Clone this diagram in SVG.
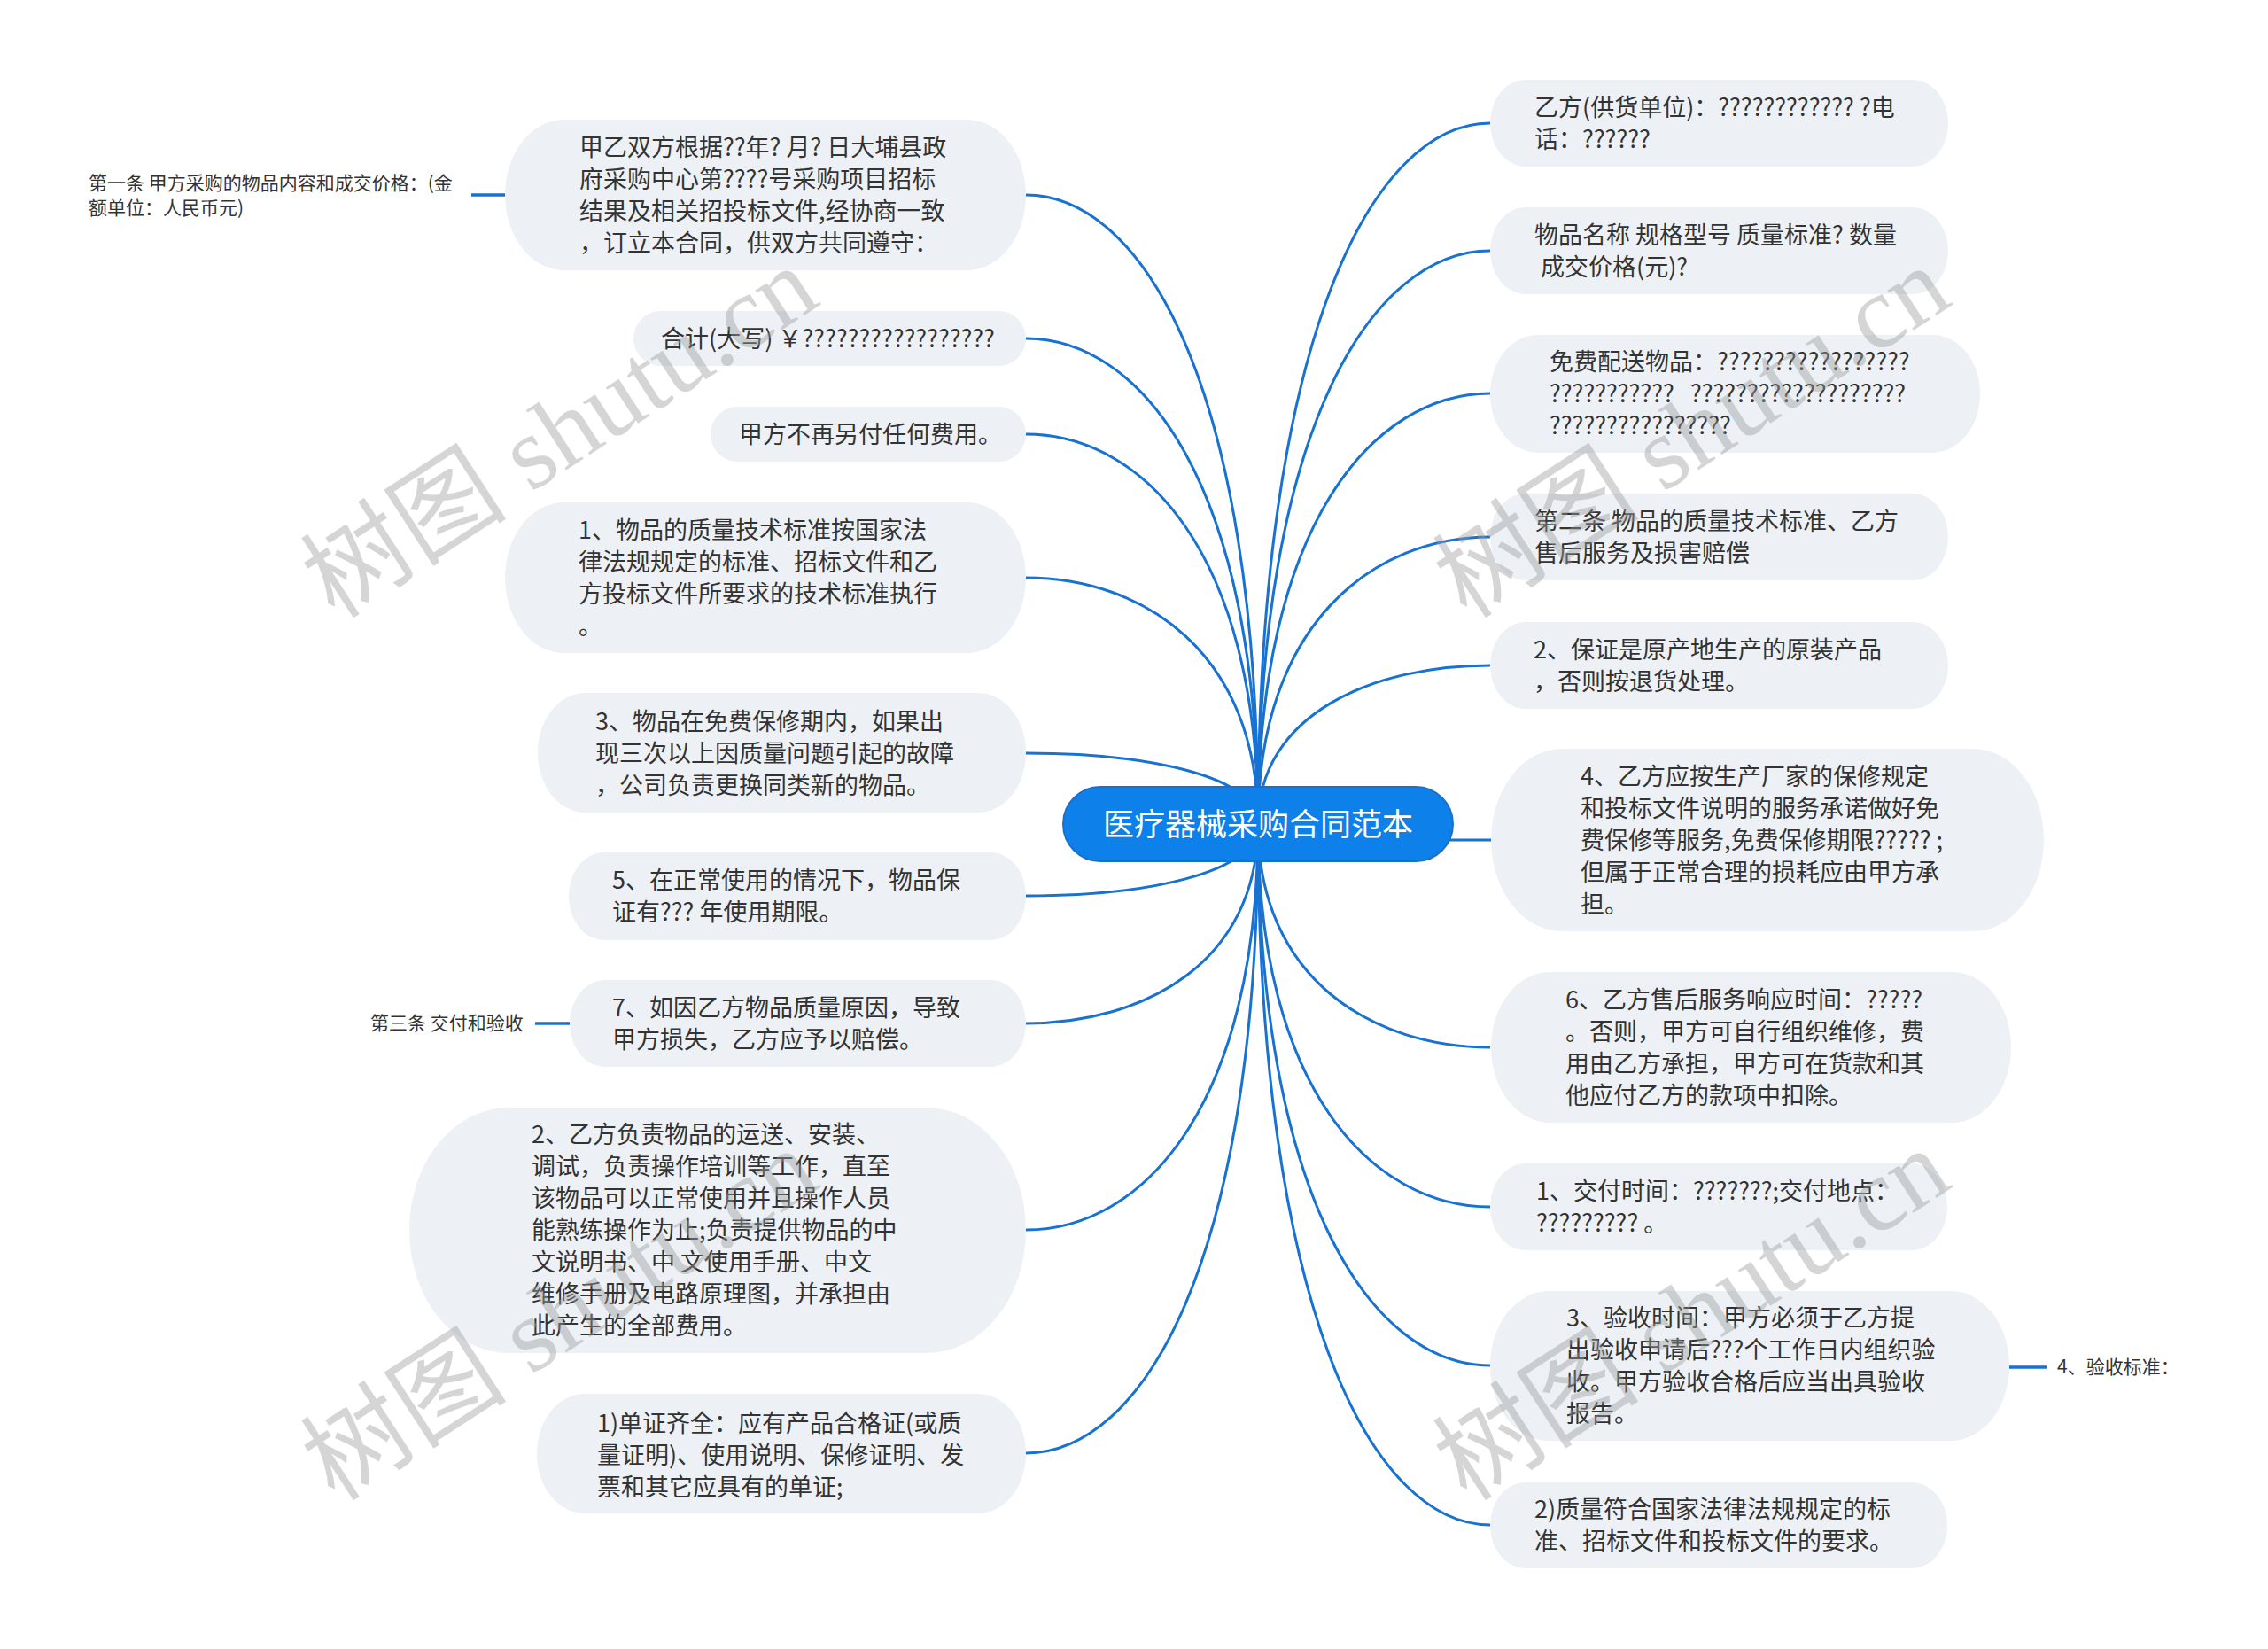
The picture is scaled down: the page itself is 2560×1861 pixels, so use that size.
<svg xmlns="http://www.w3.org/2000/svg" width="2560" height="1861" viewBox="0 0 2560 1861">
<style>
.bg{fill:#ffffff}
.node rect{fill:#edf1f5}
.t{font-family:"Noto Sans CJK SC","Microsoft YaHei","Liberation Sans",sans-serif;font-size:27px;fill:#333333}
.lab{font-family:"Noto Sans CJK SC","Liberation Sans",sans-serif;font-size:21px;fill:#333333}
.conn path{fill:none;stroke:#1872d2;stroke-width:3}
.conn .short{stroke-width:3.5}
.root rect{fill:#0d80ea;stroke:#1a6fcc;stroke-width:2}
.root text{font-family:"Noto Sans CJK SC","Liberation Sans",sans-serif;font-size:35px;fill:#ffffff;text-anchor:middle}
.wm{font-family:"Liberation Serif","Noto Sans CJK SC",serif;font-size:117px;fill:#9a9a9a;fill-opacity:0.42}
</style>
<rect class="bg" x="0" y="0" width="2560" height="1861"/>

<g id="connectors" class="conn">
<path d="M1420,930 C1420,433 1289,220 1158,220"/>
<path d="M1420,930 C1420,546 1289,382 1158,382"/>
<path d="M1420,930 C1420,622 1289,490 1158,490"/>
<path d="M1420,930 C1420,735 1289,652 1158,652"/>
<path d="M1420,930 C1420,874 1289,850 1158,850"/>
<path d="M1420,930 C1420,987 1289,1011 1158,1011"/>
<path d="M1420,930 C1420,1088 1289,1155 1158,1155"/>
<path d="M1420,930 C1420,1250 1289,1388 1158,1388"/>
<path d="M1420,930 C1420,1427 1289,1640 1158,1640"/>
<path d="M1420,930 C1420,376 1551,139 1682,139"/>
<path d="M1420,930 C1420,477 1551,283 1682,283"/>
<path d="M1420,930 C1420,590 1551,444 1682,444"/>
<path d="M1420,930 C1420,703 1551,606 1682,606"/>
<path d="M1420,930 C1420,805 1551,751 1682,751"/>
<path d="M1600,948 H1683"/>
<path d="M1420,930 C1420,1106 1551,1182 1682,1182"/>
<path d="M1420,930 C1420,1232 1551,1362 1682,1362"/>
<path d="M1420,930 C1420,1358 1551,1541 1682,1541"/>
<path d="M1420,930 C1420,1484 1551,1721 1682,1721"/>
<path class="short" d="M532,220 H570"/>
<path class="short" d="M604,1155 H643"/>
<path class="short" d="M2268,1543 H2310"/>
</g>

<g id="root" class="root">
<rect x="1200" y="888" width="440" height="84" rx="42" ry="42"/>
<text x="1420" y="943">医疗器械采购合同范本</text>
</g>

<g id="L1" class="node">
<rect x="570" y="135" width="588" height="170" rx="66" ry="85"/>
<text class="t" x="654" y="176">甲乙双方根据??年? 月? 日大埔县政</text>
<text class="t" x="654" y="212">府采购中心第????号采购项目招标</text>
<text class="t" x="654" y="248">结果及相关招投标文件,经协商一致</text>
<text class="t" x="654" y="284">，订立本合同，供双方共同遵守：</text>
</g>
<g id="L1label">
<text class="lab" x="100" y="214">第一条 甲方采购的物品内容和成交价格：(金</text>
<text class="lab" x="100" y="242">额单位：人民币元)</text>
</g>
<g id="L2" class="node">
<rect x="715" y="351" width="443" height="62" rx="31" ry="31"/>
<text class="t" x="746" y="392">合计(大写) ￥?????????????????</text>
</g>
<g id="L3" class="node">
<rect x="802" y="459" width="356" height="62" rx="31" ry="31"/>
<text class="t" x="834" y="500">甲方不再另付任何费用。</text>
</g>
<g id="L4" class="node">
<rect x="570" y="567" width="588" height="170" rx="66" ry="85"/>
<text class="t" x="653" y="608">1、物品的质量技术标准按国家法</text>
<text class="t" x="653" y="644">律法规规定的标准、招标文件和乙</text>
<text class="t" x="653" y="680">方投标文件所要求的技术标准执行</text>
<text class="t" x="653" y="716">。</text>
</g>
<g id="L5" class="node">
<rect x="607" y="782" width="551" height="135" rx="54" ry="67"/>
<text class="t" x="672" y="824">3、物品在免费保修期内，如果出</text>
<text class="t" x="672" y="860">现三次以上因质量问题引起的故障</text>
<text class="t" x="672" y="896">，公司负责更换同类新的物品。</text>
</g>
<g id="L6" class="node">
<rect x="642" y="962" width="516" height="99" rx="40" ry="49"/>
<text class="t" x="691" y="1003">5、在正常使用的情况下，物品保</text>
<text class="t" x="691" y="1039">证有??? 年使用期限。</text>
</g>
<g id="L7" class="node">
<rect x="643" y="1106" width="515" height="98" rx="40" ry="49"/>
<text class="t" x="691" y="1147">7、如因乙方物品质量原因，导致</text>
<text class="t" x="691" y="1183">甲方损失，乙方应予以赔偿。</text>
</g>
<g id="L7label">
<text class="lab" x="418" y="1162">第三条 交付和验收</text>
</g>
<g id="L8" class="node">
<rect x="462" y="1250" width="696" height="277" rx="112" ry="138"/>
<text class="t" x="600" y="1290">2、乙方负责物品的运送、安装、</text>
<text class="t" x="600" y="1326">调试，负责操作培训等工作，直至</text>
<text class="t" x="600" y="1362">该物品可以正常使用并且操作人员</text>
<text class="t" x="600" y="1398">能熟练操作为止;负责提供物品的中</text>
<text class="t" x="600" y="1434">文说明书、中 文使用手册、中文</text>
<text class="t" x="600" y="1470">维修手册及电路原理图，并承担由</text>
<text class="t" x="600" y="1506">此产生的全部费用。</text>
</g>
<g id="L9" class="node">
<rect x="606" y="1573" width="552" height="135" rx="54" ry="67"/>
<text class="t" x="674" y="1616">1)单证齐全：应有产品合格证(或质</text>
<text class="t" x="674" y="1652">量证明)、使用说明、保修证明、发</text>
<text class="t" x="674" y="1688">票和其它应具有的单证;</text>
</g>

<g id="R1" class="node">
<rect x="1682" y="90" width="517" height="98" rx="40" ry="49"/>
<text class="t" x="1732" y="131">乙方(供货单位)：???????????? ?电</text>
<text class="t" x="1732" y="167">话：??????</text>
</g>
<g id="R2" class="node">
<rect x="1682" y="234" width="517" height="98" rx="40" ry="49"/>
<text class="t" x="1732" y="275">物品名称 规格型号 质量标准? 数量</text>
<text class="t" x="1739" y="311">成交价格(元)?</text>
</g>
<g id="R3" class="node">
<rect x="1682" y="378" width="553" height="133" rx="54" ry="66"/>
<text class="t" x="1749" y="418">免费配送物品：?????????????????</text>
<text class="t" x="1749" y="454">???????????&#160;&#160;&#160;???????????????????</text>
<text class="t" x="1749" y="490">????????????????</text>
</g>
<g id="R4" class="node">
<rect x="1682" y="557" width="517" height="98" rx="40" ry="49"/>
<text class="t" x="1732" y="598">第二条 物品的质量技术标准、乙方</text>
<text class="t" x="1732" y="634">售后服务及损害赔偿</text>
</g>
<g id="R5" class="node">
<rect x="1682" y="702" width="517" height="98" rx="40" ry="49"/>
<text class="t" x="1731" y="743">2、保证是原产地生产的原装产品</text>
<text class="t" x="1731" y="779">，否则按退货处理。</text>
</g>
<g id="R6" class="node">
<rect x="1683" y="845" width="624" height="206" rx="80" ry="103"/>
<text class="t" x="1784" y="886">4、乙方应按生产厂家的保修规定</text>
<text class="t" x="1784" y="922">和投标文件说明的服务承诺做好免</text>
<text class="t" x="1784" y="958">费保修等服务,免费保修期限????? ;</text>
<text class="t" x="1784" y="994">但属于正常合理的损耗应由甲方承</text>
<text class="t" x="1784" y="1030">担。</text>
</g>
<g id="R7" class="node">
<rect x="1683" y="1097" width="587" height="170" rx="66" ry="85"/>
<text class="t" x="1767" y="1138">6、乙方售后服务响应时间：?????</text>
<text class="t" x="1767" y="1174">。否则，甲方可自行组织维修，费</text>
<text class="t" x="1767" y="1210">用由乙方承担，甲方可在货款和其</text>
<text class="t" x="1767" y="1246">他应付乙方的款项中扣除。</text>
</g>
<g id="R8" class="node">
<rect x="1682" y="1313" width="516" height="98" rx="40" ry="49"/>
<text class="t" x="1734" y="1354">1、交付时间：???????;交付地点：</text>
<text class="t" x="1734" y="1390">????????? 。</text>
</g>
<g id="R9" class="node">
<rect x="1682" y="1457" width="586" height="169" rx="66" ry="84"/>
<text class="t" x="1768" y="1497">3、验收时间：甲方必须于乙方提</text>
<text class="t" x="1768" y="1533">出验收申请后???个工作日内组织验</text>
<text class="t" x="1768" y="1569">收。甲方验收合格后应当出具验收</text>
<text class="t" x="1768" y="1605">报告。</text>
</g>
<g id="R9label">
<text class="lab" x="2322" y="1550">4、验收标准：</text>
</g>
<g id="R10" class="node">
<rect x="1682" y="1673" width="516" height="97" rx="40" ry="48"/>
<text class="t" x="1732" y="1713">2)质量符合国家法律法规规定的标</text>
<text class="t" x="1732" y="1749">准、招标文件和投标文件的要求。</text>
</g>

<g id="watermarks">
<text class="wm" transform="translate(378,700) rotate(-33)">树图 shutu.cn</text>
<text class="wm" transform="translate(1656,700) rotate(-33)">树图 shutu.cn</text>
<text class="wm" transform="translate(378,1696) rotate(-33)">树图 shutu.cn</text>
<text class="wm" transform="translate(1656,1696) rotate(-33)">树图 shutu.cn</text>
</g>
</svg>
